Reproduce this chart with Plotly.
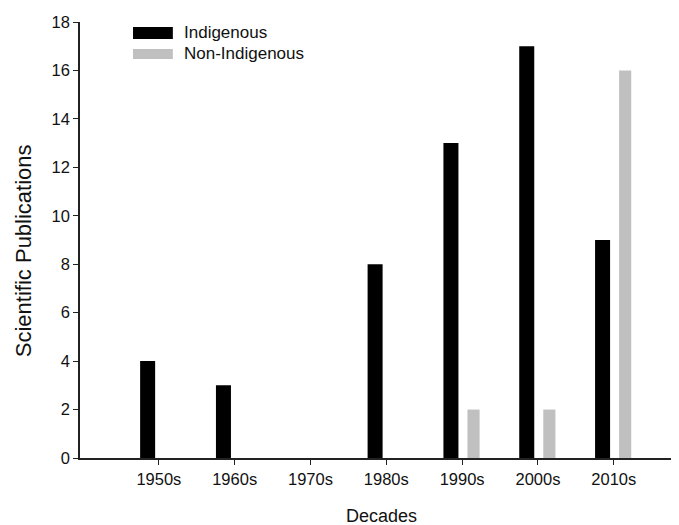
import plotly.graph_objects as go

decades = ["1950s", "1960s", "1970s", "1980s", "1990s", "2000s", "2010s"]
indigenous = [4, 3, 0, 8, 13, 17, 9]
non_indigenous = [0, 0, 0, 0, 2, 2, 16]
y_ticks = [0, 2, 4, 6, 8, 10, 12, 14, 16, 18]

FONT = "Arial, Liberation Sans, sans-serif"
BLACK = "#000000"
GRAY = "#c0c0c0"

fig = go.Figure()
fig.add_trace(go.Bar(x=decades, y=indigenous, name="Indigenous",
                     marker=dict(color=BLACK, line=dict(width=0)),
                     width=0.198, offset=-0.247))
fig.add_trace(go.Bar(x=decades, y=non_indigenous, name="Non-Indigenous",
                     marker=dict(color=GRAY, line=dict(width=0)),
                     width=0.16, offset=0.07))

# legend drawn as shapes + text
legend_items = [("Indigenous", BLACK, 0.9885, 0.961, 0.975),
                ("Non-Indigenous", GRAY, 0.938, 0.915, 0.927)]
for name, col, y1, y0, yt in legend_items:
    fig.add_shape(type="rect", xref="paper", yref="paper",
                  x0=0.0885, x1=0.155, y0=y0, y1=y1,
                  fillcolor=col, line=dict(width=0))
    fig.add_annotation(text=name, xref="paper", yref="paper",
                       x=0.170, y=yt, xanchor="left", yanchor="middle",
                       showarrow=False, font=dict(family=FONT, size=17, color="#111"))

# axis titles
fig.add_annotation(text="Decades", xref="paper", yref="paper",
                   x=0.504, y=-0.133, xanchor="center", yanchor="middle",
                   showarrow=False, font=dict(family=FONT, size=18, color="#111"))
fig.add_annotation(text="Scientific Publications", xref="paper", yref="paper",
                   x=-0.093, y=0.475, xanchor="center", yanchor="middle", textangle=-90,
                   showarrow=False, font=dict(family=FONT, size=22, color="#111"))

# the page body adds an 8px margin, so the figure is 8px smaller on each axis
fig.update_layout(
    width=671, height=517,
    margin=dict(l=72, r=0, t=14, b=67),
    paper_bgcolor="white", plot_bgcolor="white",
    barmode="overlay", showlegend=False,
    font=dict(family=FONT, color="#111"),
)
fig.update_xaxes(
    type="category", range=[-1.04, 6.86], automargin=False,
    showline=True, linecolor="#222", linewidth=1.5,
    ticks="outside", ticklen=5, tickwidth=1.2, tickcolor="#222",
    showgrid=False, zeroline=False,
    tickfont=dict(family=FONT, size=16.5, color="#111"),
)
fig.update_yaxes(
    range=[0, 18], tickvals=y_ticks, automargin=False,
    showline=True, linecolor="#222", linewidth=1.5,
    ticks="outside", ticklen=5, tickwidth=1.2, tickcolor="#222",
    showgrid=False, zeroline=False,
    tickfont=dict(family=FONT, size=16.5, color="#111"),
)

fig.write_html("out.html", config={"displayModeBar": False})
